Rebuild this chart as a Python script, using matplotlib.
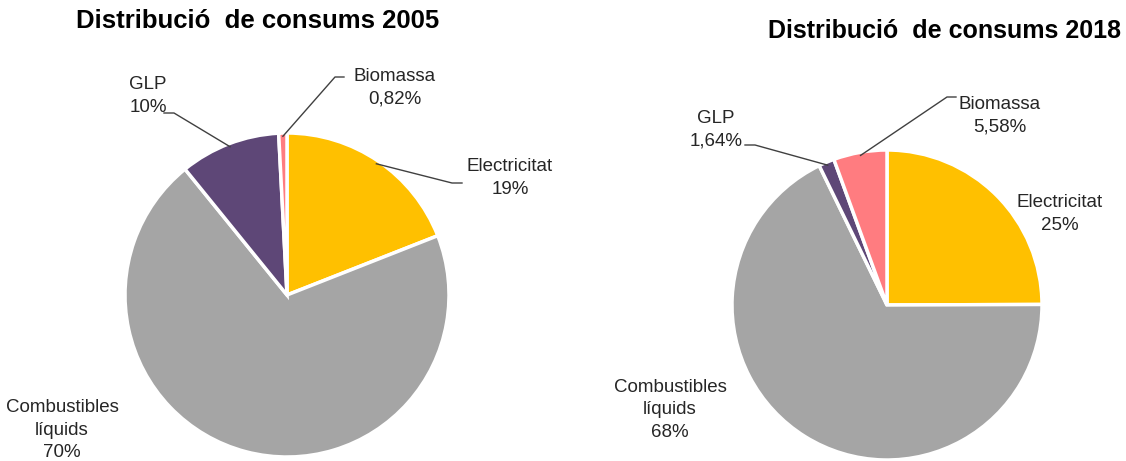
import numpy as np
import matplotlib
import matplotlib.pyplot as plt

matplotlib.rcParams.update({'font.family': ['Liberation Sans', 'DejaVu Sans']})

# energy consumption split, clockwise from 12 o'clock
categories = ["Electricitat", "Combustibles\nlíquids", "GLP", "Biomassa"]
share_2005 = [19, 70, 10, 0.82]
share_2018 = [25, 68, 1.64, 5.58]
labels_2005 = ["19%", "70%", "10%", "0,82%"]
labels_2018 = ["25%", "68%", "1,64%", "5,58%"]

colors = ["#FFC000", "#A5A5A5", "#5E4777", "#FF7C80"]

W, H = 1126, 461
fig = plt.figure(figsize=(W / 100, H / 100), dpi=100)


def pie_axes(cx, cy, r):
    # axes placed in pixel terms so the pie sits exactly where wanted
    ax = fig.add_axes([(cx - r) / W, (H - cy - r) / H, 2 * r / W, 2 * r / H])
    ax.axis("off")
    return ax


def to_data(px, py, cx, cy, r):
    return (px - cx) / r, (cy - py) / r


def draw(cx, cy, r, values, pcts, label_pos, leaders):
    ax = pie_axes(cx, cy, r)
    wedges, _ = ax.pie(values, colors=colors, startangle=90, counterclock=False,
                       radius=1, wedgeprops=dict(edgecolor="white", linewidth=2.5))
    ax.set_xlim(-1, 1)
    ax.set_ylim(-1, 1)
    ax.set_aspect("equal")
    for i, w in enumerate(wedges):
        tx, ty = to_data(*label_pos[i], cx, cy, r)
        ax.text(tx, ty, categories[i] + "\n" + pcts[i], ha="center", va="center",
                fontsize=13.5, color="#262626", linespacing=1.4, clip_on=False)
        if leaders[i] is not None:
            (sx, sy), (ex, ey) = leaders[i]
            ang = np.deg2rad((w.theta1 + w.theta2) / 2)
            p0 = to_data(sx, sy, cx, cy, r)
            p1 = to_data(ex, ey, cx, cy, r)
            ax.plot([p0[0], p1[0], np.cos(ang) * 0.98], [p0[1], p1[1], np.sin(ang) * 0.98],
                    color="#404040", lw=1, clip_on=False)
    return ax


# 2005
draw(287, 295, 162, share_2005, labels_2005,
     label_pos=[(510, 178), (62, 430), (148, 96), (395, 88)],
     leaders=[((462, 183), (452, 183)), None, ((164, 113), (174, 113)), ((344, 77), (335, 77))])
fig.text(258 / W, 1 - 21 / H, "Distribució  de consums 2005", ha="center", va="center",
         fontsize=18.5, fontweight="bold")

# 2018
draw(887, 305, 155, share_2018, labels_2018,
     label_pos=[(1060, 214), (670, 410), (716, 130), (1000, 116)],
     leaders=[None, None, ((745, 145), (755, 145)), ((956, 97), (947, 97))])
fig.text(1121 / W, 1 - 31 / H, "Distribució  de consums 2018", ha="right", va="center",
         fontsize=18, fontweight="bold")

fig.savefig("out.png", dpi=100)
